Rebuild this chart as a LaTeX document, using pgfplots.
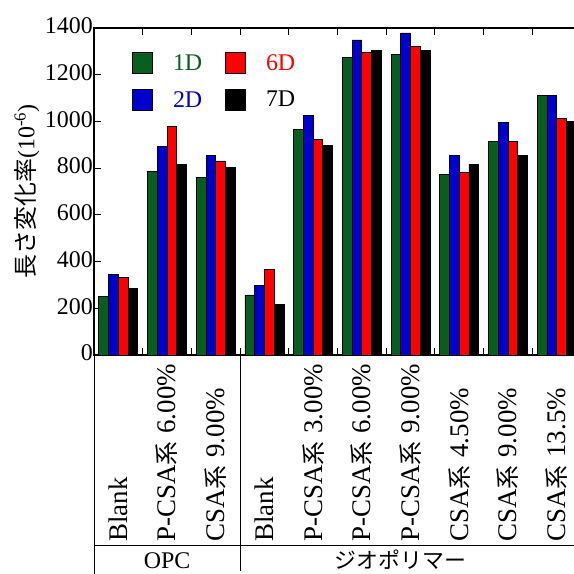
\documentclass[border=0pt]{standalone}
\usepackage{pgfplots}
\pgfplotsset{compat=1.18}
\usepackage{fontspec}
\setmainfont{Liberation Serif}
\newfontfamily\jp{Noto Sans CJK JP}
\definecolor{cgreen}{RGB}{8,94,30}
\definecolor{cblue}{RGB}{0,0,205}
\definecolor{cred}{RGB}{255,0,0}
\definecolor{cblack}{RGB}{0,0,0}
\newcommand\catfont{\fontsize{27}{30}\selectfont}
\newcommand\tickfont{\fontsize{24}{28}\selectfont}
\newcommand\kei{{\jp\fontsize{24}{28}\selectfont 系}\hspace{0.3em}}
\pgfplotsset{mylegend/.style={legend image code/.code={\fill[##1] (0bp,-10.5bp) rectangle (20bp,10.5bp);}}}
\begin{document}
\begin{tikzpicture}
\useasboundingbox (0,0) rectangle (574bp,574bp);
\clip (0,0) rectangle (574bp,574bp);
\begin{axis}[
  at={(94bp,219bp)}, anchor=south west,
  scale only axis, width=487bp, height=327bp,
  xmin=-0.5, xmax=9.5, ymin=0, ymax=1400,
  ybar=0pt, bar width=0.2,
  clip=false,
  axis line style={line width=1.2bp},
  xtick={0.5,1.5,...,8.5}, xticklabels={},
  ytick={0,200,...,1400},
  tick align=inside, major tick length=7bp,
  every tick/.style={black, line width=1bp},
  tick label style={font=\tickfont},
  /pgf/number format/assume math mode=true,
  /pgf/number format/1000 sep={},
  yticklabel style={anchor=east, inner sep=0pt, xshift=-1bp, yshift=2bp},
  every axis y label/.style={at={([xshift=-67bp]rel axis cs:0,0.5)}, rotate=90, anchor=center, font=\fontsize{24}{28}\selectfont},
  ylabel={{\jp 長さ変化率}(10\textsuperscript{-6})},
  legend columns=2, transpose legend,
  legend style={at={(rel axis cs:0,1)}, anchor=north west, xshift=38bp, yshift=-24bp,
    draw=none, fill=none, inner sep=0pt, font=\fontsize{24}{26}\selectfont,
    nodes={inner sep=0pt, anchor=west}, row sep=15bp,
    /tikz/every odd column/.append style={column sep=20bp},
    /tikz/every even column/.append style={column sep=23bp}},
  legend cell align=left,
]
\addplot[fill=cgreen, draw=black, line width=0.8bp, mylegend] coordinates {(0,250)(1,786)(2,761)(3,257)(4,964)(5,1274)(6,1286)(7,774)(8,913)(9,1111)};
\addlegendentry{\textcolor{cgreen}{1D}}
\addplot[fill=cblue, draw=black, line width=0.8bp, mylegend] coordinates {(0,343)(1,891)(2,856)(3,297)(4,1024)(5,1349)(6,1379)(7,856)(8,994)(9,1111)};
\addlegendentry{\textcolor{cblue}{2D}}
\addplot[fill=cred, draw=black, line width=0.8bp, mylegend] coordinates {(0,331)(1,977)(2,831)(3,367)(4,924)(5,1297)(6,1320)(7,780)(8,913)(9,1013)};
\addlegendentry{\textcolor{cred}{6D}}
\addplot[fill=cblack, draw=black, line width=0.8bp, mylegend] coordinates {(0,286)(1,816)(2,803)(3,216)(4,897)(5,1303)(6,1303)(7,816)(8,856)(9,1000)};
\addlegendentry{\textcolor{black}{7D}}
% table lines below the axis
\draw[line width=1bp] (rel axis cs:0,0) -- ([yshift=-222bp]rel axis cs:0,0);
\draw[line width=1bp] (axis cs:2.5,0) -- ([yshift=-216bp]axis cs:2.5,0);
\draw[line width=1bp] ([yshift=-190bp]rel axis cs:0,0) -- ([yshift=-190bp]rel axis cs:1,0);
% category labels
\node[rotate=90, anchor=west, inner sep=0pt, font=\catfont] at ([yshift=-187bp]axis cs:0,0) {Blank};
\node[rotate=90, anchor=west, inner sep=0pt, font=\catfont] at ([yshift=-187bp]axis cs:1,0) {P-CSA\kei 6.00\%};
\node[rotate=90, anchor=west, inner sep=0pt, font=\catfont] at ([yshift=-187bp]axis cs:2,0) {CSA\kei 9.00\%};
\node[rotate=90, anchor=west, inner sep=0pt, font=\catfont] at ([yshift=-187bp]axis cs:3,0) {Blank};
\node[rotate=90, anchor=west, inner sep=0pt, font=\catfont] at ([yshift=-187bp]axis cs:4,0) {P-CSA\kei 3.00\%};
\node[rotate=90, anchor=west, inner sep=0pt, font=\catfont] at ([yshift=-187bp]axis cs:5,0) {P-CSA\kei 6.00\%};
\node[rotate=90, anchor=west, inner sep=0pt, font=\catfont] at ([yshift=-187bp]axis cs:6,0) {P-CSA\kei 9.00\%};
\node[rotate=90, anchor=west, inner sep=0pt, font=\catfont] at ([yshift=-187bp]axis cs:7,0) {CSA\kei 4.50\%};
\node[rotate=90, anchor=west, inner sep=0pt, font=\catfont] at ([yshift=-187bp]axis cs:8,0) {CSA\kei 9.00\%};
\node[rotate=90, anchor=west, inner sep=0pt, font=\catfont] at ([yshift=-187bp]axis cs:9,0) {CSA\kei 13.5\%};
% group labels
\node[anchor=base, inner sep=0pt, font=\fontsize{24}{28}\selectfont] at ([yshift=-213bp]axis cs:1,0) {OPC};
\node[anchor=base, inner sep=0pt, font=\jp\fontsize{22}{26}\selectfont] at ([xshift=-10bp, yshift=-213bp]axis cs:6,0) {ジオポリマー};
\end{axis}
\end{tikzpicture}
\end{document}
